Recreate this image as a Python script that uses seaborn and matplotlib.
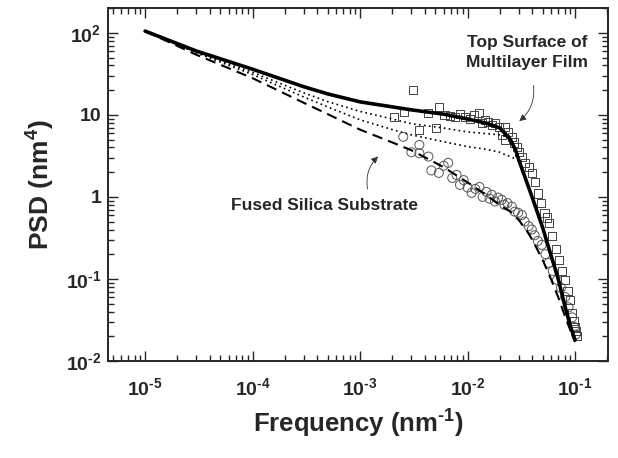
import numpy as np
import pandas as pd
import matplotlib
matplotlib.use("Agg")
import matplotlib.pyplot as plt
import seaborn as sns

# model curves (log-log)
freq_model = [1e-5, 3e-5, 1e-4, 3e-4, 5e-4, 1e-3, 2e-3, 3e-3, 6e-3, 1e-2, 1.5e-2, 2e-2, 2.2e-2,
              2.5e-2, 2.8e-2, 3e-2, 3.5e-2, 4e-2, 5e-2, 6e-2, 7e-2, 8e-2, 9e-2, 1e-1]
psd_top_model = [105, 60, 36, 22, 18, 14.4, 12.5, 11.5, 10.2, 8.9, 7.9, 6.9, 6.0,
                 5.0, 3.7, 2.8, 1.6, 0.98, 0.42, 0.19, 0.098, 0.048, 0.027, 0.018]
psd_mid1_model = [105, 58, 33, 18.5, 14.5, 11, 8.9, 7.8, 6.9, 6.2, 5.9, 5.7, 5.5,
                  5.0, 3.7, 2.8, 1.6, 0.98, 0.42, 0.19, 0.098, 0.048, 0.027, 0.018]
psd_mid2_model = [105, 57, 31, 16.5, 12.5, 8.7, 6.6, 5.7, 4.7, 4.1, 3.8, 3.5, 3.3,
                  3.1, 2.9, 2.8, 1.6, 0.98, 0.42, 0.19, 0.098, 0.048, 0.027, 0.018]
psd_sub_model = [105, 54, 28, 14, 10.2, 6.6, 4.6, 3.7, 2.3, 1.5, 1.05, 0.79, 0.73,
                 0.66, 0.57, 0.52, 0.40, 0.30, 0.17, 0.098, 0.059, 0.036, 0.024, 0.017]

# measured points, top surface of multilayer film (squares)
freq_top = [3.13e-3, 2.08e-3, 2.58e-3, 3.56e-3, 4.32e-3, 5.1e-3, 5.47e-3, 6.1e-3, 6.8e-3,
            7.6e-3, 8.5e-3, 9.4e-3, 1.05e-2, 1.15e-2, 1.27e-2, 1.35e-2, 1.44e-2, 1.55e-2,
            1.68e-2, 1.8e-2, 1.95e-2, 2.08e-2, 2.22e-2, 2.22e-2, 2.4e-2, 2.58e-2, 2.7e-2,
            2.87e-2, 3.0e-2, 3.2e-2, 3.45e-2, 3.7e-2, 3.96e-2, 4.2e-2, 4.5e-2, 4.8e-2,
            5.2e-2, 5.45e-2, 5.7e-2, 6.1e-2, 6.6e-2, 7.1e-2, 7.6e-2, 8.1e-2, 8.5e-2,
            9.0e-2, 9.4e-2, 0.097, 0.100, 0.104, 0.102]
psd_top = [20.2, 9.5, 10.9, 6.6, 10.6, 6.9, 12.5, 10.0, 9.8,
           9.5, 10.2, 9.5, 8.8, 9.9, 10.6, 7.9, 8.7, 8.2,
           7.5, 7.9, 7.1, 5.7, 7.1, 5.0, 6.2, 5.4, 4.6,
           4.1, 3.5, 3.1, 2.6, 2.3, 1.96, 1.5, 1.1, 0.85,
           0.64, 0.56, 0.48, 0.33, 0.23, 0.17, 0.125, 0.097, 0.072,
           0.055, 0.038, 0.031, 0.026, 0.020, 0.023]

# measured points, fused silica substrate (circles)
freq_sub = [2.52e-3, 3.0e-3, 3.56e-3, 3.56e-3, 4.32e-3, 4.6e-3, 5.4e-3, 6.0e-3, 6.6e-3,
            7.2e-3, 7.9e-3, 8.5e-3, 9.2e-3, 1.0e-2, 1.09e-2, 1.18e-2, 1.29e-2, 1.38e-2,
            1.5e-2, 1.6e-2, 1.68e-2, 1.8e-2, 1.92e-2, 2.08e-2, 2.2e-2, 2.35e-2, 2.58e-2,
            2.75e-2, 2.95e-2, 3.2e-2, 3.4e-2, 3.7e-2, 3.96e-2, 4.2e-2, 4.5e-2, 4.9e-2,
            5.3e-2, 5.7e-2, 6.2e-2, 6.8e-2, 7.4e-2, 8.1e-2, 8.7e-2, 9.4e-2, 0.098, 0.102]
psd_sub = [5.4, 3.5, 4.3, 3.4, 3.1, 2.1, 1.96, 2.4, 2.6,
           1.7, 1.85, 1.4, 1.6, 1.3, 1.12, 1.25, 1.32, 1.0,
           1.15, 0.95, 1.06, 0.88, 0.98, 0.92, 0.8, 0.84, 0.76,
           0.66, 0.64, 0.60, 0.5, 0.44, 0.40, 0.34, 0.29, 0.26,
           0.2, 0.157, 0.125, 0.097, 0.078, 0.060, 0.045, 0.034, 0.026, 0.021]

x_ticks = [1e-5, 1e-4, 1e-3, 1e-2, 1e-1]
x_labels = [r"$10^{\text{-}5}$", r"$10^{\text{-}4}$", r"$10^{\text{-}3}$",
            r"$10^{\text{-}2}$", r"$10^{\text{-}1}$"]
y_ticks = [1e-2, 1e-1, 1, 10, 100]
y_labels = [r"$10^{\text{-}2}$", r"$10^{\text{-}1}$", "1", "10", "$10^{2}$"]

sns.set_style("ticks")
plt.rcParams["font.family"] = ["Liberation Sans", "DejaVu Sans"]
plt.rcParams["font.weight"] = "bold"
plt.rcParams["mathtext.fontset"] = "custom"
plt.rcParams["mathtext.rm"] = "Liberation Sans:bold"
plt.rcParams["mathtext.it"] = "Liberation Sans:bold"
plt.rcParams["mathtext.bf"] = "Liberation Sans:bold"
plt.rcParams["axes.unicode_minus"] = False

models = pd.DataFrame({"freq": freq_model, "top": psd_top_model, "mid1": psd_mid1_model,
                       "mid2": psd_mid2_model, "sub": psd_sub_model})
top_pts = pd.DataFrame({"freq": freq_top, "psd": psd_top})
sub_pts = pd.DataFrame({"freq": freq_sub, "psd": psd_sub})

fig = plt.figure(figsize=(6.18, 4.58), dpi=100)
ax = fig.add_axes([0.175, 0.212, 0.809, 0.771])

sns.scatterplot(data=sub_pts, x="freq", y="psd", marker="o", s=42, facecolor="none",
                edgecolor="#555555", linewidth=0.7, ax=ax)
sns.scatterplot(data=top_pts, x="freq", y="psd", marker="s", s=34, facecolor="none",
                edgecolor="#444444", linewidth=0.7, ax=ax)

sns.lineplot(data=models, x="freq", y="sub", color="black", lw=1.5, ax=ax,
             linestyle=(0, (5, 3)))
sns.lineplot(data=models, x="freq", y="mid2", color="black", lw=1.2, ax=ax,
             linestyle=(0, (1, 2)))
sns.lineplot(data=models, x="freq", y="mid1", color="black", lw=1.2, ax=ax,
             linestyle=(0, (1, 2)))
sns.lineplot(data=models, x="freq", y="top", color="black", lw=2.6, ax=ax)

ax.set_xscale("log")
ax.set_yscale("log")
ax.set_xlim(4.53e-6, 0.203)
ax.set_ylim(0.01, 202)
ax.set_xticks(x_ticks, x_labels)
ax.set_yticks(y_ticks, y_labels)
ax.tick_params(which="both", direction="in", top=True, right=True, width=1)
ax.tick_params(which="major", length=7, labelsize=14)
ax.tick_params(axis="x", which="major", pad=12)
ax.tick_params(axis="y", which="major", pad=5)
ax.tick_params(which="minor", length=4)
for sp in ax.spines.values():
    sp.set_linewidth(1.4)

ax.set_xlabel("Frequency (nm$^{\\text{-}1}$)", fontsize=18.5, fontweight="bold", labelpad=6)
ax.set_ylabel("PSD (nm$^{4}$)", fontsize=19, fontweight="bold", labelpad=6)

ax.text(0.838, 0.873, "Top Surface of\nMultilayer Film", transform=ax.transAxes,
        ha="center", va="center", fontsize=12.5, fontweight="bold", linespacing=1.4)
ax.annotate("", xy=(0.818, 0.674), xytext=(0.85, 0.788),
            xycoords="axes fraction", textcoords="axes fraction",
            arrowprops=dict(arrowstyle="-|>", color="#333333", lw=0.6,
                            connectionstyle="arc3,rad=-0.3", mutation_scale=10))
ax.text(0.432, 0.439, "Fused Silica Substrate", transform=ax.transAxes,
        ha="center", va="center", fontsize=12.5, fontweight="bold")
ax.annotate("", xy=(0.544, 0.584), xytext=(0.52, 0.479),
            xycoords="axes fraction", textcoords="axes fraction",
            arrowprops=dict(arrowstyle="-|>", color="#333333", lw=0.6,
                            connectionstyle="arc3,rad=-0.3", mutation_scale=10))

fig.savefig("out.png", dpi=100)
